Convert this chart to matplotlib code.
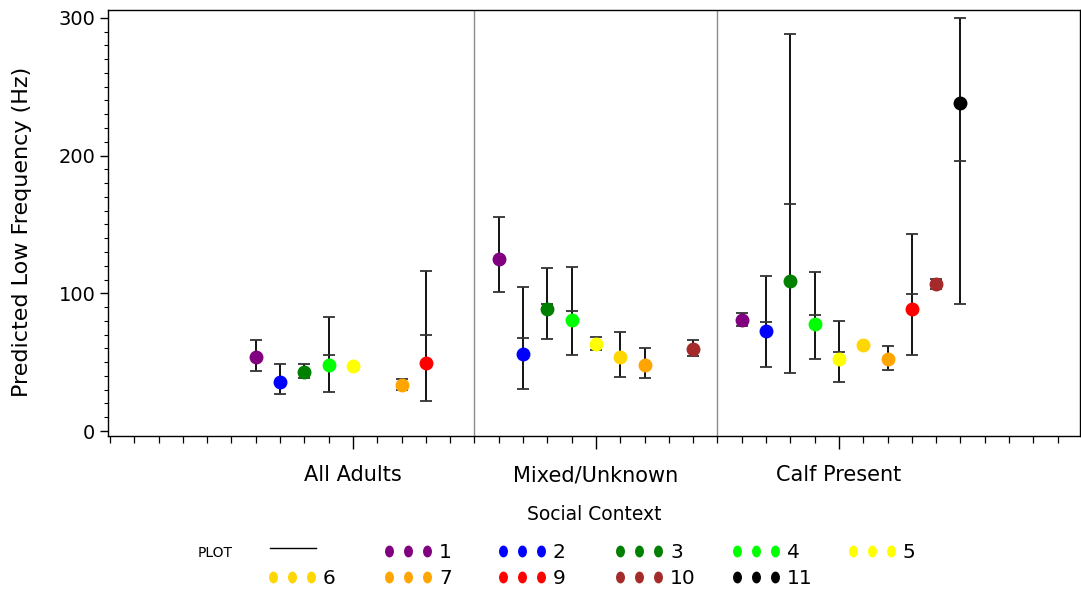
"""
Predicted low frequency by social context, one coloured point per group,
with the interval bars drawn as SAS-style hi/lo sticks.
"""

import numpy as np
import matplotlib
matplotlib.use('Agg')
import matplotlib.pyplot as plt
from matplotlib.lines import Line2D
from matplotlib.path import Path
from matplotlib.transforms import Affine2D

nan = np.nan

contexts = ['All Adults', 'Mixed/Unknown', 'Calf Present']
series = ['1', '2', '3', '4', '5', '6', '7', '9', '10', '11']
colors = ['#800080', '#0000FF', '#008000', '#00FF00', '#FFFF00',
          '#FFD700', '#FFA500', '#FF0000', '#A52A2A', '#000000']

# predicted value per series, one per context
means = [
    [53.5, 125.2, 80.4],
    [35.8, 55.9, 72.4],
    [43.1, 88.6, 109.2],
    [47.7, 80.6, 77.5],
    [47.4, 63.0, 52.3],
    [nan, 53.5, 62.2],
    [33.2, 48.1, 52.1],
    [49.1, nan, 88.8],
    [nan, 59.5, 107.0],
    [nan, nan, 238.4],
]
lows = [
    [43.6, 100.9, 76.0],
    [27.1, 30.3, 46.7],
    [38.3, 66.8, 41.9],
    [28.1, 55.2, 52.5],
    [nan, 58.6, 35.4],
    [nan, 39.4, nan],
    [29.5, 38.7, 44.3],
    [21.6, nan, 55.2],
    [nan, 54.5, 103.1],
    [nan, nan, 92.0],
]
highs = [
    [66.1, 155.6, 85.9],
    [48.9, 104.8, 112.8],
    [48.9, 118.1, 288.3],
    [82.6, 119.1, 115.7],
    [nan, 68.3, 80.1],
    [nan, 71.7, nan],
    [37.8, 60.3, 61.7],
    [116.4, nan, 143.1],
    [nan, 66.3, 110.6],
    [nan, nan, 299.9],
]
# extra tick marks sitting on some of the bars
mids = [
    [nan, nan, nan],
    [nan, 67.5, 79.2],
    [nan, 92.5, 164.9],
    [55.4, 86.9, 84.2],
    [nan, nan, 57.6],
    [nan, nan, nan],
    [nan, nan, nan],
    [69.5, nan, 99.3],
    [nan, nan, nan],
    [nan, nan, 196.1],
]

centers = np.array([10, 20, 30])
offsets = np.arange(len(series)) - 4

plt.rcParams['font.family'] = ['DejaVu Sans']

fig = plt.figure(figsize=(10.81, 5.90), dpi=100)
ax = fig.add_axes([108 / 1081, 1 - 436 / 590, 972 / 1081, 426 / 590])

# group separators
for sep in [15, 25]:
    ax.axvline(sep, color='#8c8c8c', linewidth=1.0, zorder=1)

for i, name in enumerate(series):
    x = centers + offsets[i]
    m = np.array(means[i])
    lo = np.array(lows[i])
    hi = np.array(highs[i])
    md = np.array(mids[i])
    ok = ~np.isnan(lo)
    ax.vlines(x[ok], lo[ok], hi[ok], color='black', linewidth=1.3, zorder=2)
    ax.plot(x[ok], lo[ok], linestyle='none', marker='_', markersize=9,
            markeredgewidth=1.3, color='#333333', zorder=2)
    ax.plot(x[ok], hi[ok], linestyle='none', marker='_', markersize=9,
            markeredgewidth=1.3, color='#333333', zorder=2)
    ax.plot(x, md, linestyle='none', marker='_', markersize=9,
            markeredgewidth=1.3, color='#333333', zorder=2)
    ax.plot(x, m, linestyle='none', marker='o', markersize=9,
            color=colors[i], markeredgecolor=colors[i], zorder=3)

ax.set_xlim(-0.08, 39.92)
ax.set_ylim(-3.6, 305.7)

ax.set_xticks(centers)
ax.set_xticklabels(contexts, fontsize=15)
ax.set_xticks(np.arange(0, 40, 1), minor=True)
ax.tick_params(axis='x', which='major', length=9, width=1, pad=12)
ax.tick_params(axis='x', which='minor', length=5, width=0.9)

ax.set_yticks([0, 100, 200, 300])
ax.set_yticks(np.arange(0, 301, 10), minor=True)
ax.tick_params(axis='y', which='major', length=6, width=1, labelsize=14, pad=3)
ax.tick_params(axis='y', which='minor', length=3, width=0.8)

for s in ax.spines.values():
    s.set_linewidth(1.0)

ax.set_ylabel('Predicted Low Frequency (Hz)', fontsize=16)
ax.yaxis.set_label_coords(-0.078, 0.48)
ax.set_xlabel('Social Context', fontsize=13.5, labelpad=14)

# legend laid out by hand, two rows like the SAS output
fig.text(198 / 1081, 1 - 553 / 590, 'PLOT', fontsize=10, va='center')
fig.add_artist(Line2D([270 / 1081, 316 / 1081], [1 - 548 / 590] * 2,
                      color='black', linewidth=1.0))

# SAS draws the legend dots slightly taller than wide
oval = Path(Affine2D().scale(0.72, 1.0).transform(Path.unit_circle().vertices),
            Path.unit_circle().codes)

legend_pos = [(389, 551), (503, 551), (620, 551), (737, 551), (853, 551),
              (273, 577), (389, 577), (503, 577), (620, 577), (737, 577)]
for i, name in enumerate(series):
    px, py = legend_pos[i]
    xs = [(px + k * 19) / 1081 for k in range(3)]
    fig.add_artist(Line2D(xs, [1 - py / 590] * 3, linestyle='none',
                          marker=oval, markersize=7.5, color=colors[i],
                          markeredgecolor=colors[i]))
    fig.text((px + 50) / 1081, 1 - (py + 1) / 590, name, fontsize=14.5,
             va='center')

fig.savefig('out.png', dpi=100)
